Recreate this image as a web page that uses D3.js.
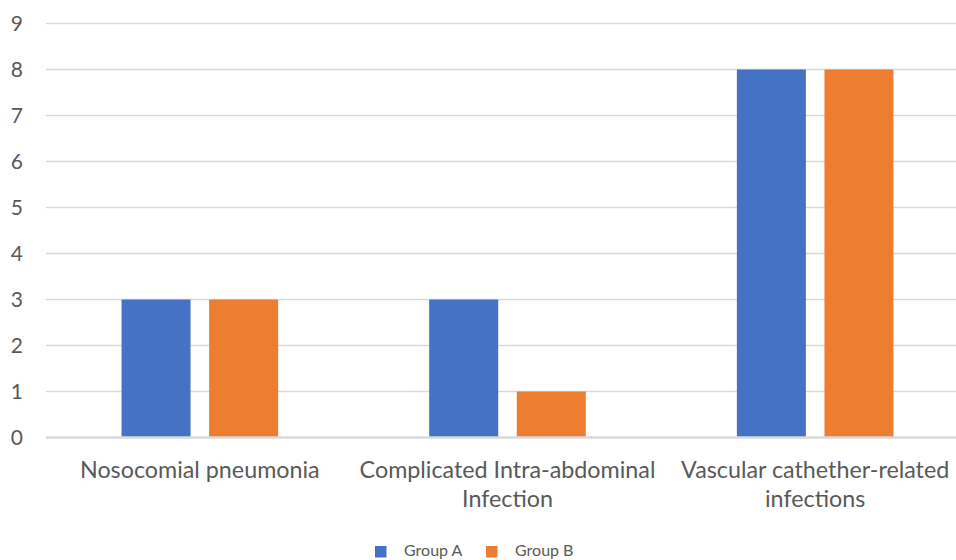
<!DOCTYPE html>
<html><head><meta charset="utf-8">
<script src="https://cdn.jsdelivr.net/npm/d3@7"></script>
<style>body{margin:0;background:#fff}svg{display:block}</style>
</head><body>
<script>
const categories = [["Nosocomial pneumonia"], ["Complicated Intra-abdominal", "Infection"], ["Vascular cathether-related", "infections"]];
const seriesNames = ["Group A", "Group B"];
const groupA = [3, 3, 8];
const groupB = [3, 1, 8];
const yTicks = [0,1,2,3,4,5,6,7,8,9];
const colors = ["#4472C4", "#ED7D31"];

const W = 956, H = 560;
const svg = d3.select("body").append("svg").attr("width", W).attr("height", H);
const font = "Lato, 'Open Sans', sans-serif";

const x = d3.scaleBand().domain(d3.range(categories.length)).range([46, 969]).paddingInner(0).paddingOuter(0);
const y = d3.scaleLinear().domain([0, 9]).range([437.5, 23.5]);
const barW = 69, gap = 18.6;
const xs = d3.scaleBand().domain(seriesNames).range([-(barW + gap/2), barW + gap/2])
  .paddingInner(gap/(barW+gap)).paddingOuter(0);

// gridlines
svg.append("g").selectAll("line").data(yTicks.filter(t => t > 0)).join("line")
  .attr("x1", 46).attr("x2", W).attr("y1", d => y(d)).attr("y2", d => y(d))
  .attr("stroke", "#d9d9d9").attr("stroke-width", 1.5);

// y tick labels
svg.append("g").selectAll("text").data(yTicks).join("text")
  .attr("x", 23).attr("y", d => y(d)).attr("dy", "0.36em")
  .attr("text-anchor", "end").attr("font-family", font).attr("font-size", 21).attr("fill", "#595959")
  .text(d => d);

// bars
const data = [groupA, groupB];
const g = svg.append("g");
categories.forEach((c, i) => {
  const cx = x(i) + x.bandwidth()/2;
  seriesNames.forEach((s, j) => {
    const v = data[j][i];
    g.append("rect").attr("x", cx + xs(s)).attr("width", xs.bandwidth())
      .attr("y", y(v)).attr("height", y(0) - y(v)).attr("fill", colors[j]);
  });
});

// axis line
svg.append("line").attr("x1", 46).attr("x2", W).attr("y1", y(0)).attr("y2", y(0))
  .attr("stroke", "#d9d9d9").attr("stroke-width", 2.5);

// category labels
const cl = svg.append("g");
categories.forEach((lines, i) => {
  const cx = x(i) + x.bandwidth()/2;
  const t = cl.append("text").attr("text-anchor", "middle").attr("font-family", font)
    .attr("font-size", 23.3).attr("fill", "#595959");
  lines.forEach((ln, k) => t.append("tspan").attr("x", cx).attr("y", 478 + k*29).text(ln));
});

// legend
const legX = [375, 486];
seriesNames.forEach((s, j) => {
  svg.append("rect").attr("x", legX[j]).attr("y", 546).attr("width", 11.5).attr("height", 11.5).attr("fill", colors[j]);
  svg.append("text").attr("x", legX[j] + 29).attr("y", 556).attr("font-family", font)
    .attr("font-size", 16).attr("fill", "#595959").text(s);
});
</script>
</body></html>
